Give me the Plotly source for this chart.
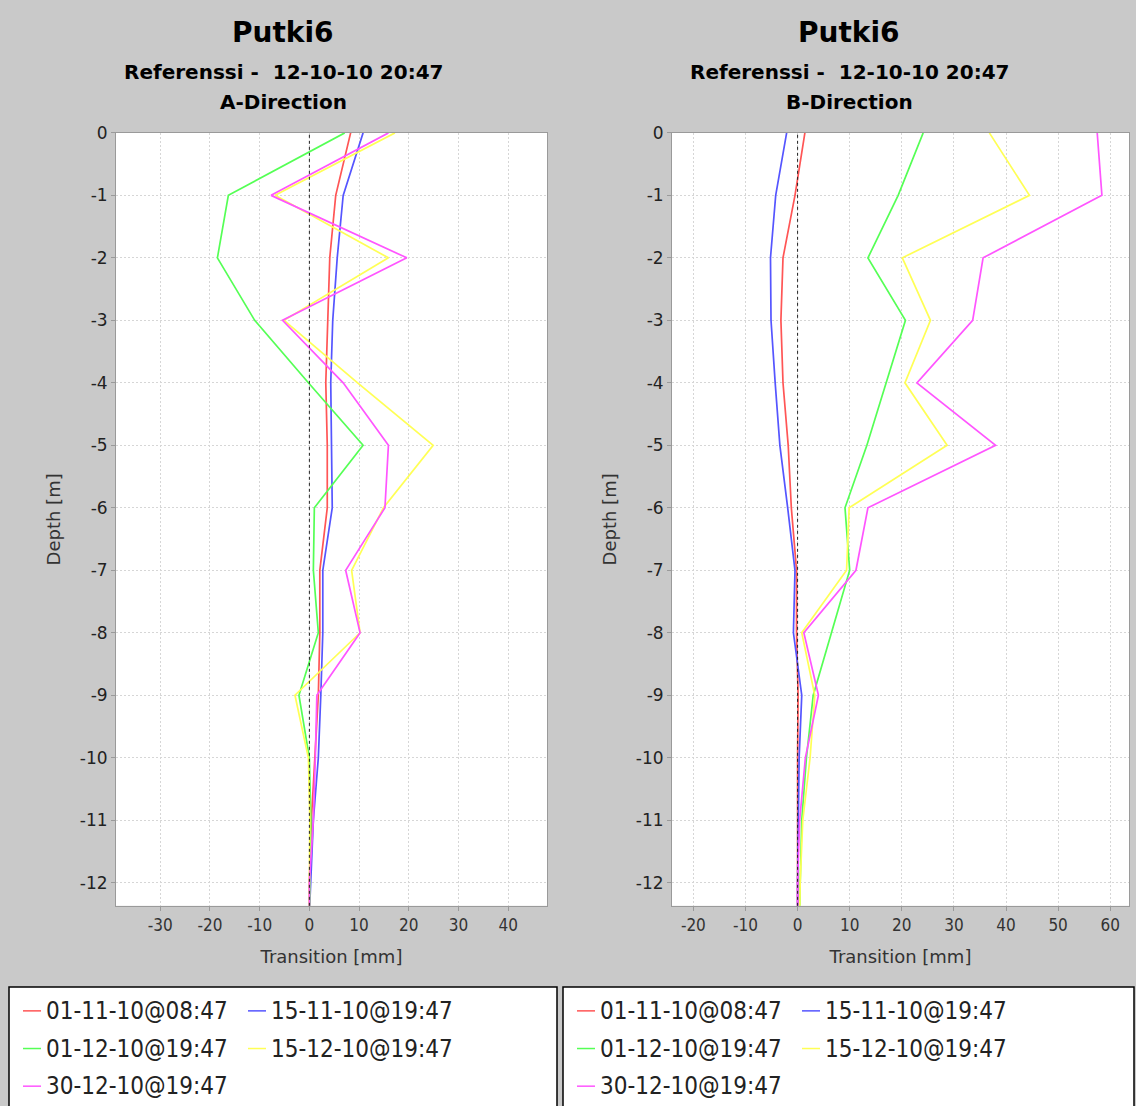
import plotly.graph_objects as go

# Inclinometer profile of tube Putki6, displacement vs depth
depths = [0, -1, -2, -3, -4, -5, -6, -7, -8, -9, -10, -11, -12, -12.5]

series_names = ["01-11-10@08:47", "15-11-10@19:47", "01-12-10@19:47",
                "15-12-10@19:47", "30-12-10@19:47"]
series_colors = ["#ff5555", "#5555ff", "#55ff55", "#ffff55", "#ff55ff"]

# A-direction transitions [mm]
a_0111 = [8.3, 5.3, 4.1, 3.7, 3.3, 3.6, 3.6, 2.1, 2.1, 1.8, 1.1, 0.4, 0.0, 0.0]
a_1511 = [10.8, 6.8, 5.6, 4.7, 4.3, 4.5, 4.6, 2.7, 2.7, 2.3, 1.8, 0.8, 0.2, 0.0]
a_0112 = [7.1, -16.3, -18.5, -11.0, -0.2, 10.8, 1.0, 0.8, 1.8, -2.1, 0.0, 0.3, 0.1, 0.0]
a_1512 = [17.2, -6.9, 15.9, -5.1, 9.7, 24.9, 14.9, 8.5, 10.2, -2.9, -0.2, 0.1, 0.0, 0.0]
a_3012 = [15.9, -7.7, 19.6, -5.4, 6.8, 15.9, 15.2, 7.3, 10.2, 1.5, 1.2, 0.8, 0.0, 0.0]

# B-direction transitions [mm]
b_0111 = [1.4, -0.5, -2.8, -3.2, -2.8, -1.8, -1.2, -0.2, -0.2, 0.1, 0.0, 0.0, 0.0, 0.0]
b_1511 = [-2.1, -4.2, -5.2, -5.1, -4.3, -3.4, -1.9, -0.5, -0.8, 0.8, 0.3, 0.1, 0.0, 0.0]
b_0112 = [24.1, 19.3, 13.5, 20.7, 17.0, 13.3, 9.1, 10.0, 6.5, 3.0, 1.7, 0.8, 0.5, 0.4]
b_1512 = [36.8, 44.5, 20.1, 25.5, 20.6, 28.7, 9.9, 9.4, 0.8, 3.3, 2.4, 1.0, 0.5, 0.4]
b_3012 = [57.5, 58.4, 35.6, 33.6, 22.9, 38.0, 13.5, 11.2, 1.2, 4.0, 1.5, 0.4, 0.0, 0.0]

a_series = [a_0111, a_1511, a_0112, a_1512, a_3012]
b_series = [b_0111, b_1511, b_0112, b_1512, b_3012]

x_ticks_a = [-30, -20, -10, 0, 10, 20, 30, 40]
x_ticks_b = [-20, -10, 0, 10, 20, 30, 40, 50, 60]
y_ticks = list(range(0, -13, -1))

W, H = 1136, 1106
BG = "#c9c9c9"
SANS = "DejaVu Sans, Verdana, sans-serif"
COND = "DejaVu Sans Condensed, DejaVu Sans, sans-serif"


def px_x(v):
    return v / W


def px_y(v):
    return 1 - v / H


def labels(vals):
    # plain hyphen-minus labels
    return [str(v) for v in vals]


fig = go.Figure()

for vals, name, color in zip(a_series, series_names, series_colors):
    fig.add_trace(go.Scatter(x=vals, y=depths, mode="lines", name=name,
                             line=dict(color=color, width=1.7),
                             xaxis="x", yaxis="y", showlegend=False))
for vals, name, color in zip(b_series, series_names, series_colors):
    fig.add_trace(go.Scatter(x=vals, y=depths, mode="lines", name=name,
                             line=dict(color=color, width=1.7),
                             xaxis="x2", yaxis="y2", showlegend=False))

grid = dict(showgrid=True, gridcolor="#d6d6d6", gridwidth=1, griddash="2px,2px",
            zeroline=False, showline=True, linecolor="#9a9a9a", linewidth=1,
            mirror=True, ticks="outside", ticklen=4, tickcolor="#9a9a9a")

xtitle = dict(text="Transition [mm]", font=dict(family=SANS, size=18, color="#333"), standoff=16)
ytitle = dict(text="Depth [m]", font=dict(family=SANS, size=18, color="#333"), standoff=14)
xtick_font = dict(family=COND, size=17, color="#333")
ytick_font = dict(family=SANS, size=17, color="#222")

fig.update_layout(
    width=W, height=H,
    margin=dict(l=0, r=0, t=0, b=0),
    paper_bgcolor=BG, plot_bgcolor="white",
    xaxis=dict(domain=[px_x(116), px_x(547)], range=[-38.9, 47.8],
               tickvals=x_ticks_a, ticktext=labels(x_ticks_a), anchor="y",
               tickfont=xtick_font, title=xtitle, **grid),
    yaxis=dict(domain=[px_y(904), px_y(124)], range=[-12.37, 0],
               tickvals=y_ticks, ticktext=labels(y_ticks), anchor="x",
               tickfont=ytick_font, title=ytitle, **grid),
    xaxis2=dict(domain=[px_x(672), px_x(1129)], range=[-24.1, 63.6],
                tickvals=x_ticks_b, ticktext=labels(x_ticks_b), anchor="y2",
                tickfont=xtick_font, title=xtitle, **grid),
    yaxis2=dict(domain=[px_y(904), px_y(124)], range=[-12.37, 0],
                tickvals=y_ticks, ticktext=labels(y_ticks), anchor="x2",
                tickfont=ytick_font, title=ytitle, **grid),
    showlegend=False,
)

# dashed zero-transition marker in both panels
for xr, yr in (("x", "y domain"), ("x2", "y2 domain")):
    fig.add_shape(type="line", xref=xr, yref=yr, x0=0, x1=0, y0=0, y1=1,
                  line=dict(color="#222", width=1, dash="3px,3px"))

# panel titles
for cx, direction in ((283, "A-Direction"), (849, "B-Direction")):
    for ty, txt, size in ((23, "Putki6", 28),
                          (63, "Referenssi -  12-10-10 20:47", 20),
                          (93, direction, 20)):
        fig.add_annotation(x=px_x(cx), y=px_y(ty), xref="paper", yref="paper",
                           text="<b>" + txt + "</b>", showarrow=False,
                           xanchor="center", yanchor="middle",
                           font=dict(family=SANS, size=size, color="black"))

# legend boxes below each panel
row_y = [1010, 1048, 1086]
col_x = [14, 239]
for x0, x1 in ((9, 557), (563, 1134)):
    fig.add_shape(type="rect", xref="paper", yref="paper",
                  x0=px_x(x0), x1=px_x(x1), y0=px_y(1120), y1=px_y(986),
                  fillcolor="white", line=dict(color="black", width=1.5), layer="below")
    for i, (name, color) in enumerate(zip(series_names, series_colors)):
        lx = x0 + col_x[i % 2]
        ly = row_y[i // 2]
        fig.add_shape(type="line", xref="paper", yref="paper",
                      x0=px_x(lx), x1=px_x(lx + 18), y0=px_y(ly), y1=px_y(ly),
                      line=dict(color=color, width=1.5))
        fig.add_annotation(x=px_x(lx + 21), y=px_y(ly), xref="paper", yref="paper",
                           text=name, showarrow=False, xanchor="left", yanchor="middle",
                           font=dict(family=COND, size=24, color="#222"))

fig.write_html("out.html")
